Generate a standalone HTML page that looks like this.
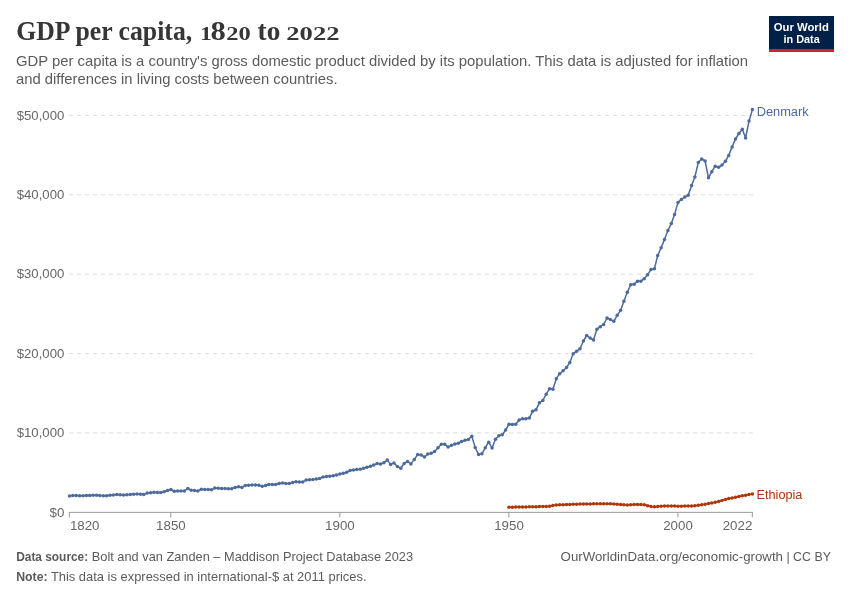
<!DOCTYPE html>
<html><head><meta charset="utf-8"><title>GDP per capita, 1820 to 2022</title>
<style>
html,body{margin:0;padding:0;background:#fff;}
body{width:850px;height:600px;overflow:hidden;}
svg{display:block;font-family:"Liberation Sans",sans-serif;}
.title{font-family:"Liberation Serif",serif;font-weight:bold;fill:#363636;}
</style></head><body>
<svg width="850" height="600" viewBox="0 0 850 600">
<rect width="850" height="600" fill="#fff"/>
<!-- title -->
<g class="title" font-size="27.8">
<text x="16.2" y="40.2" textLength="176" lengthAdjust="spacingAndGlyphs">GDP per capita,</text>
<text transform="translate(200.0,40.2) scale(1.24,1)" font-size="19.2">1</text>
<text transform="translate(210.4,40.2) scale(1.10,1)">8</text>
<text transform="translate(226.2,40.2) scale(1.277,1)" font-size="19.2">20</text>
<text transform="translate(257.6,40.2) scale(0.98,1)">to</text>
<text transform="translate(286.3,40.2) scale(1.385,1)" font-size="19.2">2022</text>
</g>
<!-- subtitle -->
<g font-size="15" fill="#5b5b5b">
<text x="16" y="66.3" textLength="732" lengthAdjust="spacingAndGlyphs">GDP per capita is a country's gross domestic product divided by its population. This data is adjusted for inflation</text>
<text x="16" y="84.2" textLength="321.5" lengthAdjust="spacingAndGlyphs">and differences in living costs between countries.</text>
</g>
<!-- logo -->
<g>
<rect x="769" y="16" width="65" height="36" fill="#002147"/>
<rect x="769" y="49" width="65" height="3" fill="#ce261e"/>
<g fill="#fff" font-weight="bold" font-size="11">
<text x="773.8" y="30.9" textLength="55" lengthAdjust="spacingAndGlyphs">Our World</text>
<text x="783.5" y="42.8" textLength="36.3" lengthAdjust="spacingAndGlyphs">in Data</text>
</g>
</g>
<!-- grid -->
<line x1="69" x2="753" y1="432.96" y2="432.96" stroke="#ddd" stroke-width="1" stroke-dasharray="4 4"/>
<line x1="69" x2="753" y1="353.57" y2="353.57" stroke="#ddd" stroke-width="1" stroke-dasharray="4 4"/>
<line x1="69" x2="753" y1="274.18" y2="274.18" stroke="#ddd" stroke-width="1" stroke-dasharray="4 4"/>
<line x1="69" x2="753" y1="194.79" y2="194.79" stroke="#ddd" stroke-width="1" stroke-dasharray="4 4"/>
<line x1="69" x2="753" y1="115.4" y2="115.4" stroke="#ddd" stroke-width="1" stroke-dasharray="4 4"/>

<!-- axis -->
<line x1="68.85" x2="753" y1="512.35" y2="512.35" stroke="#999" stroke-width="1"/>
<line x1="69.35" x2="69.35" y1="512.35" y2="517.4" stroke="#999" stroke-width="1"/>
<line x1="170.78" x2="170.78" y1="512.35" y2="517.4" stroke="#999" stroke-width="1"/>
<line x1="339.83" x2="339.83" y1="512.35" y2="517.4" stroke="#999" stroke-width="1"/>
<line x1="508.88" x2="508.88" y1="512.35" y2="517.4" stroke="#999" stroke-width="1"/>
<line x1="677.93" x2="677.93" y1="512.35" y2="517.4" stroke="#999" stroke-width="1"/>
<line x1="752.31" x2="752.31" y1="512.35" y2="517.4" stroke="#999" stroke-width="1"/>

<g font-size="13" fill="#666">
<text x="49.5" y="516.6" textLength="14.8" lengthAdjust="spacingAndGlyphs">$0</text>
<text x="16.7" y="437.2" textLength="47.6" lengthAdjust="spacingAndGlyphs">$10,000</text>
<text x="16.7" y="357.8" textLength="47.6" lengthAdjust="spacingAndGlyphs">$20,000</text>
<text x="16.7" y="278.4" textLength="47.6" lengthAdjust="spacingAndGlyphs">$30,000</text>
<text x="16.7" y="199.0" textLength="47.6" lengthAdjust="spacingAndGlyphs">$40,000</text>
<text x="16.7" y="119.6" textLength="47.6" lengthAdjust="spacingAndGlyphs">$50,000</text>

<text x="69.9" y="529.7" textLength="29.6" lengthAdjust="spacingAndGlyphs">1820</text>
<text x="156.1" y="529.7" textLength="29.6" lengthAdjust="spacingAndGlyphs">1850</text>
<text x="325.1" y="529.7" textLength="29.6" lengthAdjust="spacingAndGlyphs">1900</text>
<text x="494.2" y="529.7" textLength="29.6" lengthAdjust="spacingAndGlyphs">1950</text>
<text x="663.2" y="529.7" textLength="29.6" lengthAdjust="spacingAndGlyphs">2000</text>
<text x="722.7" y="529.7" textLength="29.6" lengthAdjust="spacingAndGlyphs">2022</text>

</g>
<!-- series -->
<polyline fill="none" stroke="#B13507" stroke-width="1.5" stroke-linejoin="round" stroke-linecap="round" points="509.0,507.3 512.4,507.2 515.7,507.1 519.1,507.1 522.5,507.0 525.9,506.9 529.3,506.8 532.6,506.8 536.0,506.7 539.4,506.6 542.8,506.5 546.2,506.5 549.6,506.2 552.9,505.4 556.3,504.9 559.7,504.8 563.1,504.7 566.5,504.6 569.8,504.4 573.2,504.3 576.6,504.2 580.0,504.1 583.4,503.9 586.7,503.9 590.1,503.9 593.5,503.8 596.9,503.8 600.3,503.8 603.6,503.8 607.0,503.7 610.4,503.7 613.8,503.9 617.2,504.2 620.6,504.4 623.9,504.7 627.3,504.9 630.7,504.8 634.1,504.6 637.5,504.5 640.8,504.6 644.2,504.8 647.6,505.7 651.0,506.6 654.4,506.7 657.7,506.5 661.1,506.3 664.5,506.1 667.9,505.9 671.3,506.0 674.6,506.1 678.0,506.2 681.4,506.2 684.8,506.1 688.2,506.1 691.6,506.0 694.9,505.7 698.3,505.2 701.7,504.8 705.1,504.2 708.5,503.6 711.8,502.9 715.2,502.3 718.6,501.4 722.0,500.5 725.4,499.5 728.7,498.6 732.1,497.9 735.5,497.2 738.9,496.5 742.3,495.8 745.6,495.2 749.0,494.6 752.4,494.0"/>
<g fill="#B13507"><circle cx="509.0" cy="507.3" r="1.75"/><circle cx="512.4" cy="507.2" r="1.75"/><circle cx="515.7" cy="507.1" r="1.75"/><circle cx="519.1" cy="507.1" r="1.75"/><circle cx="522.5" cy="507.0" r="1.75"/><circle cx="525.9" cy="506.9" r="1.75"/><circle cx="529.3" cy="506.8" r="1.75"/><circle cx="532.6" cy="506.8" r="1.75"/><circle cx="536.0" cy="506.7" r="1.75"/><circle cx="539.4" cy="506.6" r="1.75"/><circle cx="542.8" cy="506.5" r="1.75"/><circle cx="546.2" cy="506.5" r="1.75"/><circle cx="549.6" cy="506.2" r="1.75"/><circle cx="552.9" cy="505.4" r="1.75"/><circle cx="556.3" cy="504.9" r="1.75"/><circle cx="559.7" cy="504.8" r="1.75"/><circle cx="563.1" cy="504.7" r="1.75"/><circle cx="566.5" cy="504.6" r="1.75"/><circle cx="569.8" cy="504.4" r="1.75"/><circle cx="573.2" cy="504.3" r="1.75"/><circle cx="576.6" cy="504.2" r="1.75"/><circle cx="580.0" cy="504.1" r="1.75"/><circle cx="583.4" cy="503.9" r="1.75"/><circle cx="586.7" cy="503.9" r="1.75"/><circle cx="590.1" cy="503.9" r="1.75"/><circle cx="593.5" cy="503.8" r="1.75"/><circle cx="596.9" cy="503.8" r="1.75"/><circle cx="600.3" cy="503.8" r="1.75"/><circle cx="603.6" cy="503.8" r="1.75"/><circle cx="607.0" cy="503.7" r="1.75"/><circle cx="610.4" cy="503.7" r="1.75"/><circle cx="613.8" cy="503.9" r="1.75"/><circle cx="617.2" cy="504.2" r="1.75"/><circle cx="620.6" cy="504.4" r="1.75"/><circle cx="623.9" cy="504.7" r="1.75"/><circle cx="627.3" cy="504.9" r="1.75"/><circle cx="630.7" cy="504.8" r="1.75"/><circle cx="634.1" cy="504.6" r="1.75"/><circle cx="637.5" cy="504.5" r="1.75"/><circle cx="640.8" cy="504.6" r="1.75"/><circle cx="644.2" cy="504.8" r="1.75"/><circle cx="647.6" cy="505.7" r="1.75"/><circle cx="651.0" cy="506.6" r="1.75"/><circle cx="654.4" cy="506.7" r="1.75"/><circle cx="657.7" cy="506.5" r="1.75"/><circle cx="661.1" cy="506.3" r="1.75"/><circle cx="664.5" cy="506.1" r="1.75"/><circle cx="667.9" cy="505.9" r="1.75"/><circle cx="671.3" cy="506.0" r="1.75"/><circle cx="674.6" cy="506.1" r="1.75"/><circle cx="678.0" cy="506.2" r="1.75"/><circle cx="681.4" cy="506.2" r="1.75"/><circle cx="684.8" cy="506.1" r="1.75"/><circle cx="688.2" cy="506.1" r="1.75"/><circle cx="691.6" cy="506.0" r="1.75"/><circle cx="694.9" cy="505.7" r="1.75"/><circle cx="698.3" cy="505.2" r="1.75"/><circle cx="701.7" cy="504.8" r="1.75"/><circle cx="705.1" cy="504.2" r="1.75"/><circle cx="708.5" cy="503.6" r="1.75"/><circle cx="711.8" cy="502.9" r="1.75"/><circle cx="715.2" cy="502.3" r="1.75"/><circle cx="718.6" cy="501.4" r="1.75"/><circle cx="722.0" cy="500.5" r="1.75"/><circle cx="725.4" cy="499.5" r="1.75"/><circle cx="728.7" cy="498.6" r="1.75"/><circle cx="732.1" cy="497.9" r="1.75"/><circle cx="735.5" cy="497.2" r="1.75"/><circle cx="738.9" cy="496.5" r="1.75"/><circle cx="742.3" cy="495.8" r="1.75"/><circle cx="745.6" cy="495.2" r="1.75"/><circle cx="749.0" cy="494.6" r="1.75"/><circle cx="752.4" cy="494.0" r="1.75"/></g>

<polyline fill="none" stroke="#4C6A9C" stroke-width="1.5" stroke-linejoin="round" stroke-linecap="round" points="69.5,496.1 72.8,495.6 76.2,495.6 79.6,495.7 83.0,495.7 86.4,495.5 89.7,495.4 93.1,495.2 96.5,495.2 99.9,495.6 103.3,495.7 106.6,495.7 110.0,495.3 113.4,494.9 116.8,494.6 120.2,494.8 123.5,495.0 126.9,494.7 130.3,494.5 133.7,494.2 137.1,494.0 140.5,494.2 143.8,494.4 147.2,493.1 150.6,492.7 154.0,492.3 157.4,492.5 160.7,492.6 164.1,491.7 167.5,490.5 170.9,489.5 174.3,491.3 177.6,491.0 181.0,491.0 184.4,490.9 187.8,488.5 191.2,490.2 194.5,490.5 197.9,490.9 201.3,489.2 204.7,489.4 208.1,489.6 211.5,489.8 214.8,488.1 218.2,488.3 221.6,488.4 225.0,488.5 228.4,488.7 231.7,488.7 235.1,487.4 238.5,486.7 241.9,487.4 245.3,485.4 248.6,485.2 252.0,485.1 255.4,485.1 258.8,485.2 262.2,486.2 265.5,485.4 268.9,484.6 272.3,484.6 275.7,484.5 279.1,483.6 282.5,483.0 285.8,483.5 289.2,483.4 292.6,482.5 296.0,481.8 299.4,481.9 302.7,481.9 306.1,480.1 309.5,479.7 312.9,479.4 316.3,479.0 319.6,478.6 323.0,476.9 326.4,476.6 329.8,476.2 333.2,475.8 336.5,475.0 339.9,474.1 343.3,473.2 346.7,472.2 350.1,470.5 353.5,470.1 356.8,469.6 360.2,469.2 363.6,468.2 367.0,467.2 370.4,466.2 373.7,465.0 377.1,463.6 380.5,464.1 383.9,462.7 387.3,460.1 390.6,464.4 394.0,462.9 397.4,466.5 400.8,468.3 404.2,463.4 407.5,461.5 410.9,463.9 414.3,459.4 417.7,454.5 421.1,454.9 424.5,457.0 427.8,454.0 431.2,453.3 434.6,451.4 438.0,447.8 441.4,444.3 444.7,444.2 448.1,447.0 451.5,445.3 454.9,443.9 458.3,443.2 461.6,441.6 465.0,440.2 468.4,439.4 471.8,436.3 475.2,447.6 478.6,454.5 481.9,453.8 485.3,447.7 488.7,442.2 492.1,448.1 495.5,439.2 498.8,435.8 502.2,434.8 505.6,430.1 509.0,424.2 512.4,424.5 515.7,424.2 519.1,420.0 522.5,418.8 525.9,418.7 529.3,418.0 532.6,411.3 536.0,409.7 539.4,402.8 542.8,400.5 546.2,394.2 549.6,388.7 552.9,389.3 556.3,378.7 559.7,373.7 563.1,370.8 566.5,367.5 569.8,362.5 573.2,353.7 576.6,351.3 580.0,348.7 583.4,341.0 586.7,335.5 590.1,338.0 593.5,340.0 596.9,329.2 600.3,326.7 603.6,324.5 607.0,318.0 610.4,319.5 613.8,321.3 617.2,315.3 620.6,310.3 623.9,301.3 627.3,292.2 630.7,284.7 634.1,284.2 637.5,281.3 640.8,281.2 644.2,278.7 647.6,274.7 651.0,269.6 654.4,268.7 657.7,255.5 661.1,247.8 664.5,239.6 667.9,230.5 671.3,223.6 674.6,214.4 678.0,202.4 681.4,199.4 684.8,197.1 688.2,195.2 691.6,185.4 694.9,177.0 698.3,162.4 701.7,158.9 705.1,161.0 708.5,177.8 711.8,171.7 715.2,166.2 718.6,167.2 722.0,165.0 725.4,161.3 728.7,155.4 732.1,146.9 735.5,139.0 738.9,133.4 742.3,129.3 745.6,137.9 749.0,121.1 752.4,109.6"/>
<g fill="#4C6A9C"><circle cx="69.5" cy="496.1" r="1.75"/><circle cx="72.8" cy="495.6" r="1.75"/><circle cx="76.2" cy="495.6" r="1.75"/><circle cx="79.6" cy="495.7" r="1.75"/><circle cx="83.0" cy="495.7" r="1.75"/><circle cx="86.4" cy="495.5" r="1.75"/><circle cx="89.7" cy="495.4" r="1.75"/><circle cx="93.1" cy="495.2" r="1.75"/><circle cx="96.5" cy="495.2" r="1.75"/><circle cx="99.9" cy="495.6" r="1.75"/><circle cx="103.3" cy="495.7" r="1.75"/><circle cx="106.6" cy="495.7" r="1.75"/><circle cx="110.0" cy="495.3" r="1.75"/><circle cx="113.4" cy="494.9" r="1.75"/><circle cx="116.8" cy="494.6" r="1.75"/><circle cx="120.2" cy="494.8" r="1.75"/><circle cx="123.5" cy="495.0" r="1.75"/><circle cx="126.9" cy="494.7" r="1.75"/><circle cx="130.3" cy="494.5" r="1.75"/><circle cx="133.7" cy="494.2" r="1.75"/><circle cx="137.1" cy="494.0" r="1.75"/><circle cx="140.5" cy="494.2" r="1.75"/><circle cx="143.8" cy="494.4" r="1.75"/><circle cx="147.2" cy="493.1" r="1.75"/><circle cx="150.6" cy="492.7" r="1.75"/><circle cx="154.0" cy="492.3" r="1.75"/><circle cx="157.4" cy="492.5" r="1.75"/><circle cx="160.7" cy="492.6" r="1.75"/><circle cx="164.1" cy="491.7" r="1.75"/><circle cx="167.5" cy="490.5" r="1.75"/><circle cx="170.9" cy="489.5" r="1.75"/><circle cx="174.3" cy="491.3" r="1.75"/><circle cx="177.6" cy="491.0" r="1.75"/><circle cx="181.0" cy="491.0" r="1.75"/><circle cx="184.4" cy="490.9" r="1.75"/><circle cx="187.8" cy="488.5" r="1.75"/><circle cx="191.2" cy="490.2" r="1.75"/><circle cx="194.5" cy="490.5" r="1.75"/><circle cx="197.9" cy="490.9" r="1.75"/><circle cx="201.3" cy="489.2" r="1.75"/><circle cx="204.7" cy="489.4" r="1.75"/><circle cx="208.1" cy="489.6" r="1.75"/><circle cx="211.5" cy="489.8" r="1.75"/><circle cx="214.8" cy="488.1" r="1.75"/><circle cx="218.2" cy="488.3" r="1.75"/><circle cx="221.6" cy="488.4" r="1.75"/><circle cx="225.0" cy="488.5" r="1.75"/><circle cx="228.4" cy="488.7" r="1.75"/><circle cx="231.7" cy="488.7" r="1.75"/><circle cx="235.1" cy="487.4" r="1.75"/><circle cx="238.5" cy="486.7" r="1.75"/><circle cx="241.9" cy="487.4" r="1.75"/><circle cx="245.3" cy="485.4" r="1.75"/><circle cx="248.6" cy="485.2" r="1.75"/><circle cx="252.0" cy="485.1" r="1.75"/><circle cx="255.4" cy="485.1" r="1.75"/><circle cx="258.8" cy="485.2" r="1.75"/><circle cx="262.2" cy="486.2" r="1.75"/><circle cx="265.5" cy="485.4" r="1.75"/><circle cx="268.9" cy="484.6" r="1.75"/><circle cx="272.3" cy="484.6" r="1.75"/><circle cx="275.7" cy="484.5" r="1.75"/><circle cx="279.1" cy="483.6" r="1.75"/><circle cx="282.5" cy="483.0" r="1.75"/><circle cx="285.8" cy="483.5" r="1.75"/><circle cx="289.2" cy="483.4" r="1.75"/><circle cx="292.6" cy="482.5" r="1.75"/><circle cx="296.0" cy="481.8" r="1.75"/><circle cx="299.4" cy="481.9" r="1.75"/><circle cx="302.7" cy="481.9" r="1.75"/><circle cx="306.1" cy="480.1" r="1.75"/><circle cx="309.5" cy="479.7" r="1.75"/><circle cx="312.9" cy="479.4" r="1.75"/><circle cx="316.3" cy="479.0" r="1.75"/><circle cx="319.6" cy="478.6" r="1.75"/><circle cx="323.0" cy="476.9" r="1.75"/><circle cx="326.4" cy="476.6" r="1.75"/><circle cx="329.8" cy="476.2" r="1.75"/><circle cx="333.2" cy="475.8" r="1.75"/><circle cx="336.5" cy="475.0" r="1.75"/><circle cx="339.9" cy="474.1" r="1.75"/><circle cx="343.3" cy="473.2" r="1.75"/><circle cx="346.7" cy="472.2" r="1.75"/><circle cx="350.1" cy="470.5" r="1.75"/><circle cx="353.5" cy="470.1" r="1.75"/><circle cx="356.8" cy="469.6" r="1.75"/><circle cx="360.2" cy="469.2" r="1.75"/><circle cx="363.6" cy="468.2" r="1.75"/><circle cx="367.0" cy="467.2" r="1.75"/><circle cx="370.4" cy="466.2" r="1.75"/><circle cx="373.7" cy="465.0" r="1.75"/><circle cx="377.1" cy="463.6" r="1.75"/><circle cx="380.5" cy="464.1" r="1.75"/><circle cx="383.9" cy="462.7" r="1.75"/><circle cx="387.3" cy="460.1" r="1.75"/><circle cx="390.6" cy="464.4" r="1.75"/><circle cx="394.0" cy="462.9" r="1.75"/><circle cx="397.4" cy="466.5" r="1.75"/><circle cx="400.8" cy="468.3" r="1.75"/><circle cx="404.2" cy="463.4" r="1.75"/><circle cx="407.5" cy="461.5" r="1.75"/><circle cx="410.9" cy="463.9" r="1.75"/><circle cx="414.3" cy="459.4" r="1.75"/><circle cx="417.7" cy="454.5" r="1.75"/><circle cx="421.1" cy="454.9" r="1.75"/><circle cx="424.5" cy="457.0" r="1.75"/><circle cx="427.8" cy="454.0" r="1.75"/><circle cx="431.2" cy="453.3" r="1.75"/><circle cx="434.6" cy="451.4" r="1.75"/><circle cx="438.0" cy="447.8" r="1.75"/><circle cx="441.4" cy="444.3" r="1.75"/><circle cx="444.7" cy="444.2" r="1.75"/><circle cx="448.1" cy="447.0" r="1.75"/><circle cx="451.5" cy="445.3" r="1.75"/><circle cx="454.9" cy="443.9" r="1.75"/><circle cx="458.3" cy="443.2" r="1.75"/><circle cx="461.6" cy="441.6" r="1.75"/><circle cx="465.0" cy="440.2" r="1.75"/><circle cx="468.4" cy="439.4" r="1.75"/><circle cx="471.8" cy="436.3" r="1.75"/><circle cx="475.2" cy="447.6" r="1.75"/><circle cx="478.6" cy="454.5" r="1.75"/><circle cx="481.9" cy="453.8" r="1.75"/><circle cx="485.3" cy="447.7" r="1.75"/><circle cx="488.7" cy="442.2" r="1.75"/><circle cx="492.1" cy="448.1" r="1.75"/><circle cx="495.5" cy="439.2" r="1.75"/><circle cx="498.8" cy="435.8" r="1.75"/><circle cx="502.2" cy="434.8" r="1.75"/><circle cx="505.6" cy="430.1" r="1.75"/><circle cx="509.0" cy="424.2" r="1.75"/><circle cx="512.4" cy="424.5" r="1.75"/><circle cx="515.7" cy="424.2" r="1.75"/><circle cx="519.1" cy="420.0" r="1.75"/><circle cx="522.5" cy="418.8" r="1.75"/><circle cx="525.9" cy="418.7" r="1.75"/><circle cx="529.3" cy="418.0" r="1.75"/><circle cx="532.6" cy="411.3" r="1.75"/><circle cx="536.0" cy="409.7" r="1.75"/><circle cx="539.4" cy="402.8" r="1.75"/><circle cx="542.8" cy="400.5" r="1.75"/><circle cx="546.2" cy="394.2" r="1.75"/><circle cx="549.6" cy="388.7" r="1.75"/><circle cx="552.9" cy="389.3" r="1.75"/><circle cx="556.3" cy="378.7" r="1.75"/><circle cx="559.7" cy="373.7" r="1.75"/><circle cx="563.1" cy="370.8" r="1.75"/><circle cx="566.5" cy="367.5" r="1.75"/><circle cx="569.8" cy="362.5" r="1.75"/><circle cx="573.2" cy="353.7" r="1.75"/><circle cx="576.6" cy="351.3" r="1.75"/><circle cx="580.0" cy="348.7" r="1.75"/><circle cx="583.4" cy="341.0" r="1.75"/><circle cx="586.7" cy="335.5" r="1.75"/><circle cx="590.1" cy="338.0" r="1.75"/><circle cx="593.5" cy="340.0" r="1.75"/><circle cx="596.9" cy="329.2" r="1.75"/><circle cx="600.3" cy="326.7" r="1.75"/><circle cx="603.6" cy="324.5" r="1.75"/><circle cx="607.0" cy="318.0" r="1.75"/><circle cx="610.4" cy="319.5" r="1.75"/><circle cx="613.8" cy="321.3" r="1.75"/><circle cx="617.2" cy="315.3" r="1.75"/><circle cx="620.6" cy="310.3" r="1.75"/><circle cx="623.9" cy="301.3" r="1.75"/><circle cx="627.3" cy="292.2" r="1.75"/><circle cx="630.7" cy="284.7" r="1.75"/><circle cx="634.1" cy="284.2" r="1.75"/><circle cx="637.5" cy="281.3" r="1.75"/><circle cx="640.8" cy="281.2" r="1.75"/><circle cx="644.2" cy="278.7" r="1.75"/><circle cx="647.6" cy="274.7" r="1.75"/><circle cx="651.0" cy="269.6" r="1.75"/><circle cx="654.4" cy="268.7" r="1.75"/><circle cx="657.7" cy="255.5" r="1.75"/><circle cx="661.1" cy="247.8" r="1.75"/><circle cx="664.5" cy="239.6" r="1.75"/><circle cx="667.9" cy="230.5" r="1.75"/><circle cx="671.3" cy="223.6" r="1.75"/><circle cx="674.6" cy="214.4" r="1.75"/><circle cx="678.0" cy="202.4" r="1.75"/><circle cx="681.4" cy="199.4" r="1.75"/><circle cx="684.8" cy="197.1" r="1.75"/><circle cx="688.2" cy="195.2" r="1.75"/><circle cx="691.6" cy="185.4" r="1.75"/><circle cx="694.9" cy="177.0" r="1.75"/><circle cx="698.3" cy="162.4" r="1.75"/><circle cx="701.7" cy="158.9" r="1.75"/><circle cx="705.1" cy="161.0" r="1.75"/><circle cx="708.5" cy="177.8" r="1.75"/><circle cx="711.8" cy="171.7" r="1.75"/><circle cx="715.2" cy="166.2" r="1.75"/><circle cx="718.6" cy="167.2" r="1.75"/><circle cx="722.0" cy="165.0" r="1.75"/><circle cx="725.4" cy="161.3" r="1.75"/><circle cx="728.7" cy="155.4" r="1.75"/><circle cx="732.1" cy="146.9" r="1.75"/><circle cx="735.5" cy="139.0" r="1.75"/><circle cx="738.9" cy="133.4" r="1.75"/><circle cx="742.3" cy="129.3" r="1.75"/><circle cx="745.6" cy="137.9" r="1.75"/><circle cx="749.0" cy="121.1" r="1.75"/><circle cx="752.4" cy="109.6" r="1.75"/></g>

<g font-size="12.5">
<text x="756.7" y="115.7" fill="#4C6A9C" textLength="52" lengthAdjust="spacingAndGlyphs">Denmark</text>
<text x="756.5" y="498.9" fill="#B13507" textLength="45.9" lengthAdjust="spacingAndGlyphs">Ethiopia</text>
</g>
<!-- footer -->
<g font-size="13.4" fill="#5b5b5b">
<text x="16.2" y="560.8" font-weight="bold" textLength="72" lengthAdjust="spacingAndGlyphs">Data source:</text>
<text x="91.8" y="560.8" textLength="321.2" lengthAdjust="spacingAndGlyphs">Bolt and van Zanden – Maddison Project Database 2023</text>
<text x="16.2" y="580.6" font-weight="bold" textLength="31.4" lengthAdjust="spacingAndGlyphs">Note:</text>
<text x="50.9" y="580.6" textLength="315.6" lengthAdjust="spacingAndGlyphs">This data is expressed in international-$ at 2011 prices.</text>
<text x="560.6" y="560.8" textLength="222.4" lengthAdjust="spacingAndGlyphs">OurWorldinData.org/economic-growth</text>
<text x="786.4" y="560.8" textLength="44.6" lengthAdjust="spacingAndGlyphs">| CC BY</text>
</g>
</svg>
</body></html>
